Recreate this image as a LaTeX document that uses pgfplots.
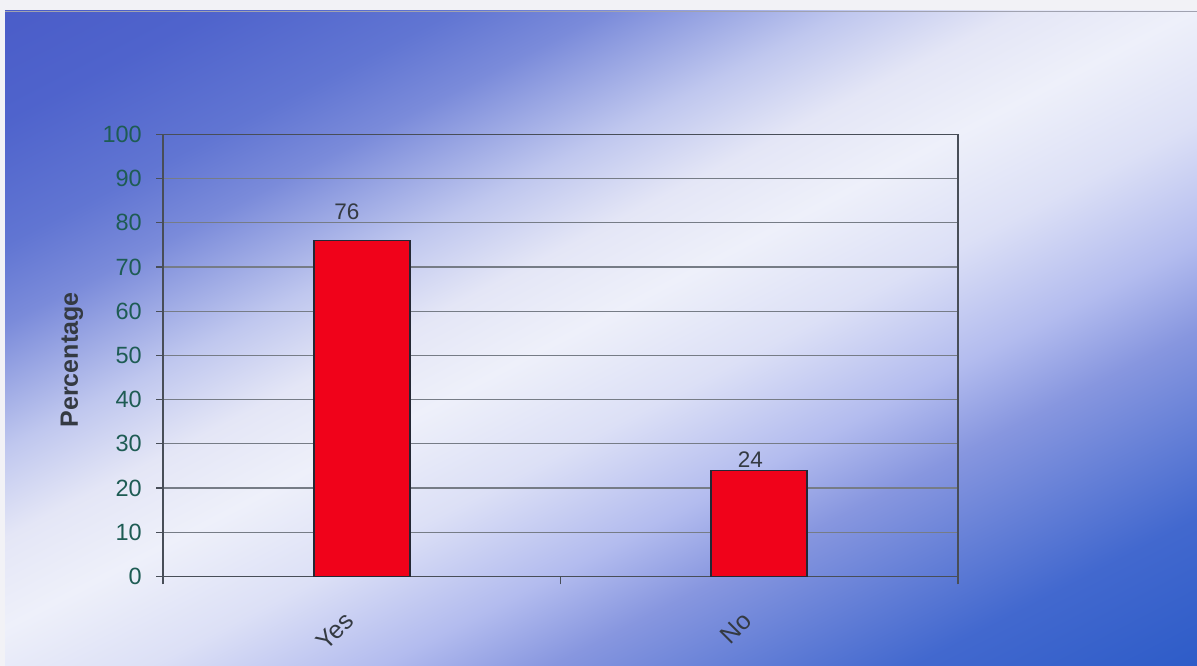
\documentclass[border=0pt]{standalone}
\usepackage{pgfplots}
\pgfplotsset{compat=1.18}
\usepackage{fontspec}
\setmainfont{Liberation Sans}

\definecolor{barred}{RGB}{240,2,26}
\definecolor{baredge}{RGB}{36,40,52}
\definecolor{gridgray}{RGB}{118,124,134}
\definecolor{framegray}{RGB}{72,78,88}
\definecolor{ticktext}{RGB}{30,92,84}
\definecolor{labeltext}{RGB}{52,58,66}
\definecolor{margincol}{RGB}{242,242,246}

% diagonal light band across a blue backdrop
\pgfdeclarehorizontalshading{bgband}{100bp}{
  rgb(0bp)=(0.165,0.337,0.776);
  rgb(25bp)=(0.165,0.337,0.776);
  rgb(27.69bp)=(0.180,0.361,0.784);
  rgb(32.69bp)=(0.260,0.410,0.810);
  rgb(39.04bp)=(0.530,0.590,0.875);
  rgb(42.04bp)=(0.700,0.735,0.935);
  rgb(46.15bp)=(0.863,0.878,0.965);
  rgb(50bp)=(0.933,0.941,0.980);
  rgb(53.08bp)=(0.894,0.902,0.965);
  rgb(56.15bp)=(0.750,0.780,0.935);
  rgb(60.38bp)=(0.480,0.545,0.855);
  rgb(63.08bp)=(0.380,0.460,0.825);
  rgb(67.31bp)=(0.310,0.390,0.800);
  rgb(71.54bp)=(0.290,0.361,0.784);
  rgb(75bp)=(0.267,0.337,0.769);
  rgb(100bp)=(0.267,0.337,0.769)}

\begin{document}
\begin{tikzpicture}[x=1bp,y=1bp]
\useasboundingbox (0,0) rectangle (1197,666);
\fill[margincol] (0,0) rectangle (1197,666);
\begin{scope}
  \clip (5,0) rectangle (1197,655);
  \begin{scope}[transform canvas={shift={(570bp,331bp)}, rotate=117.4}]
    \shade[shading=bgband] (-650,-1300) rectangle (650,1300);
  \end{scope}
\end{scope}
\draw[color={rgb,255:red,160;green,162;blue,176}, line width=0.8bp] (5,655) -- (1197,655);

\begin{axis}[
  at={(163bp,89.5bp)}, anchor=south west,
  scale only axis, width=795bp, height=442bp,
  xmin=-0.5, xmax=1.5, ymin=0, ymax=100,
  axis line style={draw=framegray, line width=1.6bp},
  tick pos=left, tick align=outside,
  major tick length=7bp, minor tick length=8bp,
  ytick={0,10,...,100},
  ymajorgrids, major grid style={draw=gridgray, line width=1.2bp},
  xtick={0,1}, xticklabels={Yes,No},
  minor xtick={-0.5,0.5,1.5},
  major x tick style={draw=none},
  minor x tick style={draw=framegray, line width=1.2bp},
  ytick style={draw=framegray, line width=1.2bp},
  /pgf/number format/assume math mode=true,
  yticklabel style={font=\fontsize{23.5bp}{28bp}\selectfont, text=ticktext, inner sep=0pt, xshift=-14bp},
  xticklabel style={font=\fontsize{25bp}{30bp}\selectfont, text=labeltext, inner sep=0pt, xshift=-12bp, yshift=-33bp, rotate=45, anchor=east},
  ylabel={Percentage},
  every axis y label/.style={at={(axis description cs:-0.1145,0.49)}, rotate=90, anchor=center,
    font=\bfseries\fontsize{25bp}{30bp}\selectfont, text=labeltext},
]
\addplot[ybar, fill=barred, draw=baredge, line width=1.8bp, bar width=96bp,
  point meta=y,
  visualization depends on={\thisrow{dx} \as \ldx},
  visualization depends on={\thisrow{dy} \as \ldy},
  nodes near coords,
  every node near coord/.append style={font=\fontsize{22.5bp}{27bp}\selectfont, text=labeltext,
    anchor=south, inner sep=0pt, xshift=\ldx pt, yshift=\ldy pt}]
  table {
    x  y   dx   dy
    0  76  -15  20
    1  24  -9   2
  };
\end{axis}
\end{tikzpicture}
\end{document}
